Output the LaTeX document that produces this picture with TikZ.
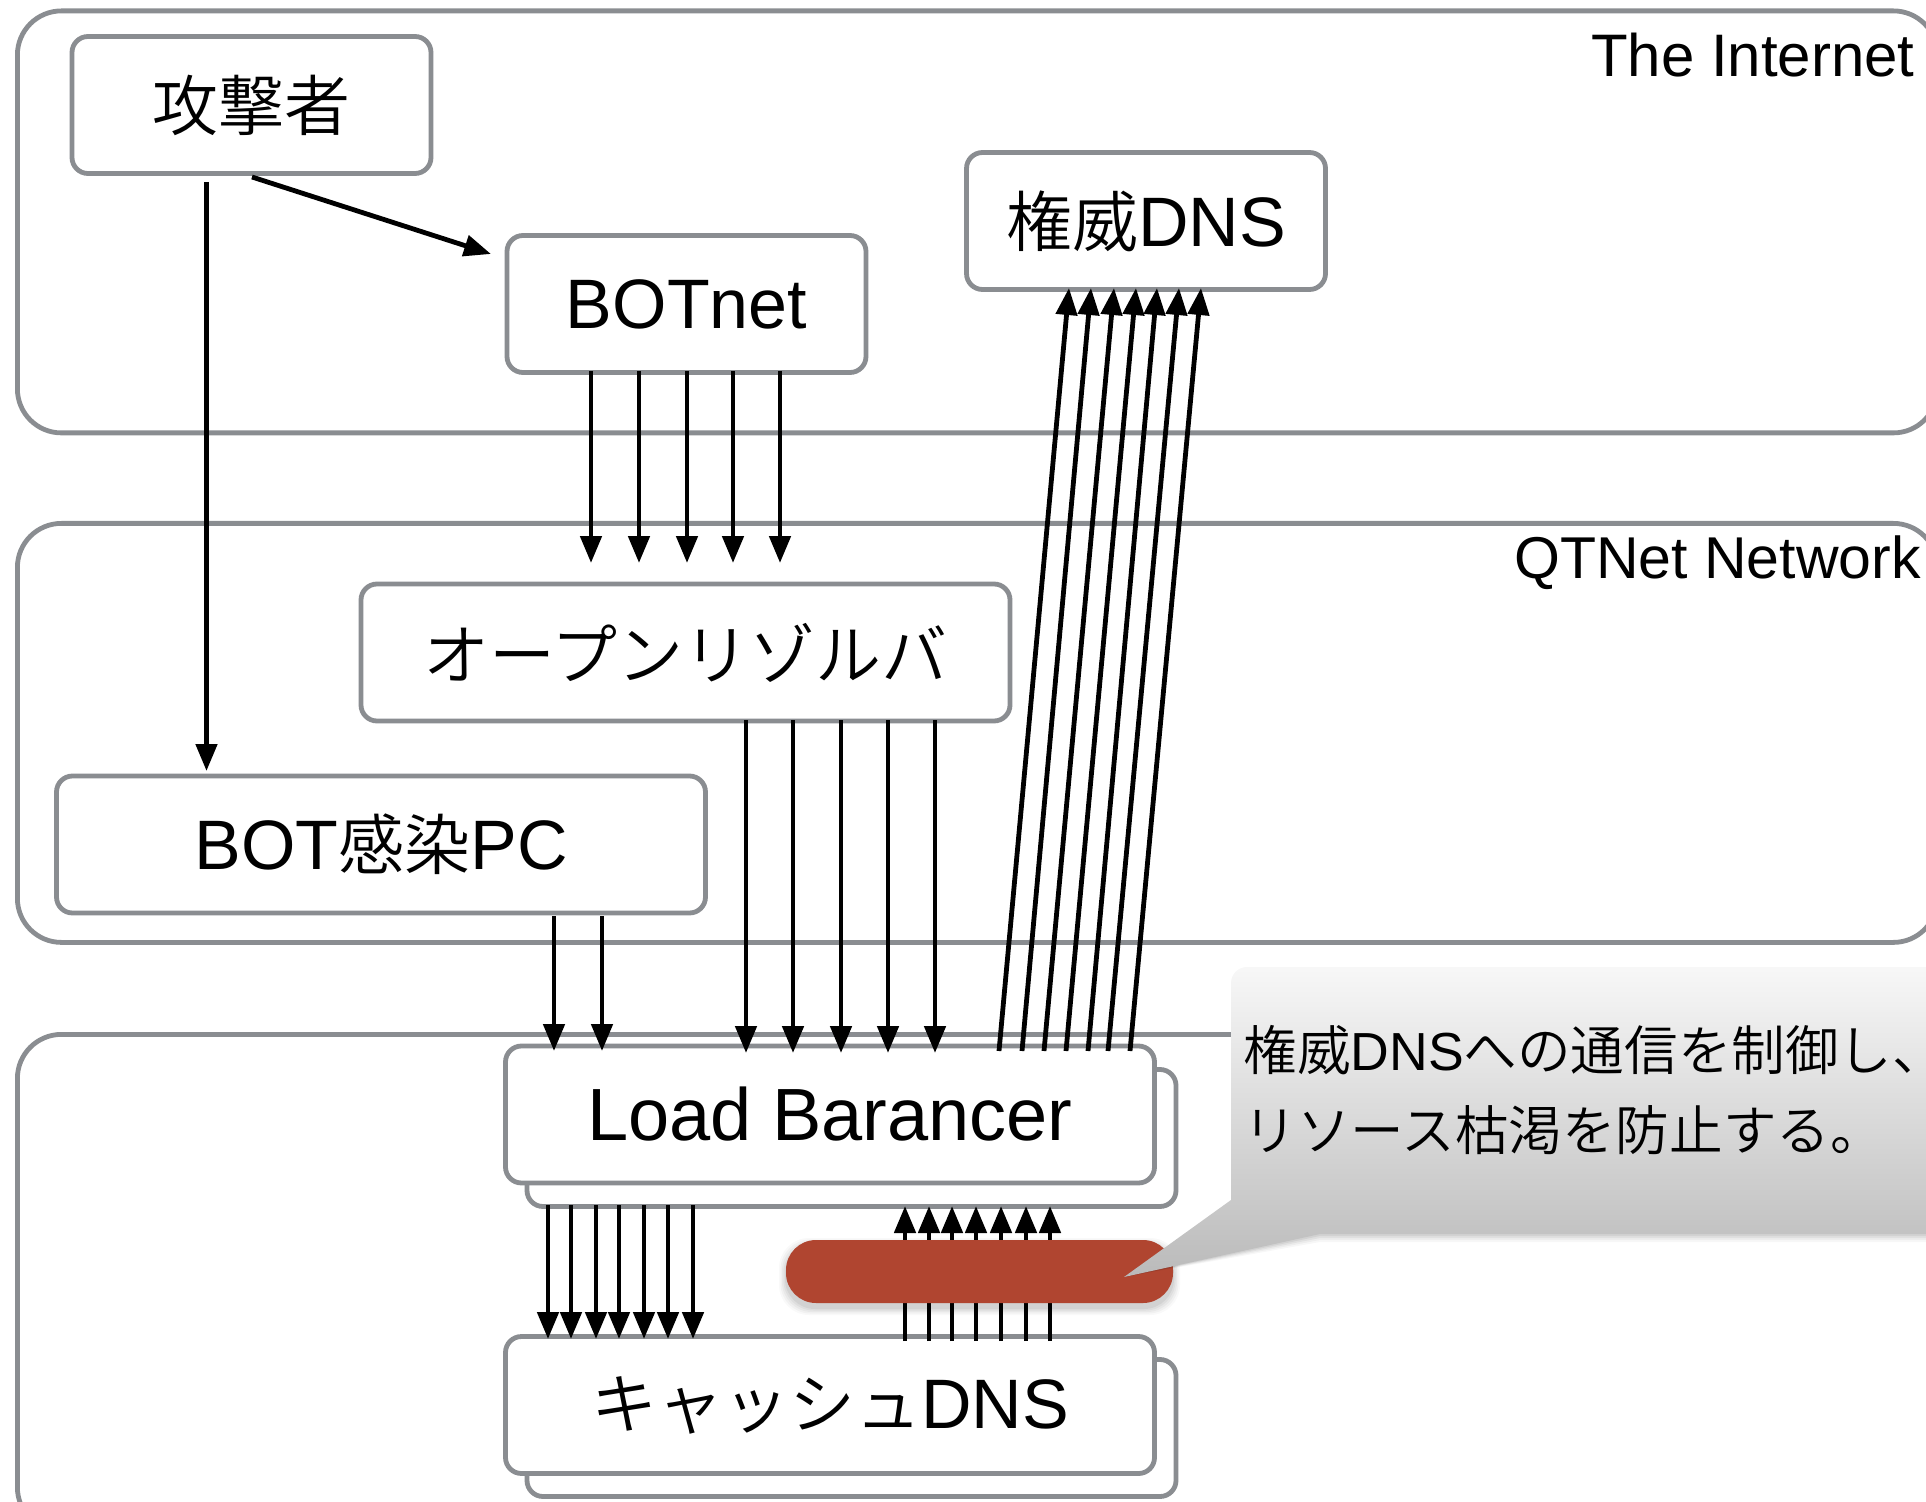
\documentclass[tikz,border=0pt]{standalone}
\usepackage{fontspec}
\usetikzlibrary{arrows.meta}
\setmainfont{Liberation Sans}
\newfontfamily\jp{Noto Sans CJK JP DemiLight}
\definecolor{edgegray}{HTML}{8A8D91}
\definecolor{pillred}{HTML}{B04530}
\newcommand{\jpb}[1]{{\fontsize{33}{33}\selectfont\jp #1}}
\tikzset{
  x=0.5pt,y=-0.5pt,
  zone/.style={draw=edgegray,line width=2.4pt,rounded corners=22pt,fill=white,minimum width=960pt,inner sep=0pt},
  boxn/.style={draw=edgegray,line width=2.4pt,rounded corners=8pt,fill=white,minimum width=179.5pt,minimum height=68.5pt,inner sep=0pt,font=\fontsize{35}{35}\selectfont},
  wide/.style={boxn,minimum width=324.5pt},
  lab/.style={inner sep=0pt,font=\fontsize{30}{30}\selectfont},
  notetext/.style={inner sep=0pt,anchor=west,font=\fontsize{26.8}{26.8}\selectfont},
  arr/.style={line width=2.4pt,-{Triangle[length=13.5pt,width=10.5pt]}},
}
\begin{document}
\begin{tikzpicture}
\useasboundingbox (0,0) rectangle (1926,1502);
\clip (0,0) rectangle (1926,1502);
% zones
\node[zone,minimum height=211pt,anchor=north west] (internet) at (15,8.5) {};
\node[zone,minimum height=209.5pt,anchor=north west] (qtnet) at (15,521) {};
\node[zone,minimum height=248.5pt,anchor=north west] (inner) at (15,1032) {};
\node[lab,anchor=east] (inetlab) at (1915,55) {The Internet};
\node[lab,anchor=east,font=\fontsize{29.5}{29.5}\selectfont] (qtlab) at (1921,563) {QTNet Network};
% boxes
\node[boxn] (attacker) at (251.5,105) {\jpb{攻撃者}};
\node[boxn] (botnet) at (686.5,304) {BOTnet};
\node[boxn] (auth) at (1146,221) {\jpb{権威}DNS};
\node[wide] (open) at (685.5,652.5) {\jpb{オープンリゾルバ}};
\node[wide] (pc) at (381,844.5) {BOT\jpb{感染}PC};
\node[wide] (lbback) at (851.5,1138) {};
\node[wide,font=\fontsize{37}{37}\selectfont] (lb) at (830,1114.5) {Load Barancer};
\node[wide] (cacheback) at (851.5,1428) {};
\node[wide] (cache) at (830,1405) {\jpb{キャッシュ}DNS};
% arrows
\coordinate (a1) at (206.5,182); \coordinate (a2) at (206.5,771);
\draw[arr] (a1) -- (a2);
\coordinate (b1) at (252,177); \coordinate (b2) at (491,254);
\draw[arr] (b1) -- (b2);
\foreach \i/\x in {1/591,2/639,3/687,4/733,5/780}{
  \coordinate (bs\i) at (\x,371); \coordinate (bt\i) at (\x,563);
  \draw[arr] (bs\i) -- (bt\i);}
\foreach \i/\x in {1/746,2/793,3/841,4/888,5/935}{
  \coordinate (os\i) at (\x,720); \coordinate (ot\i) at (\x,1053);
  \draw[arr] (os\i) -- (ot\i);}
\foreach \i/\x in {1/554,2/602}{
  \coordinate (ps\i) at (\x,916); \coordinate (pt\i) at (\x,1051);
  \draw[arr] (ps\i) -- (pt\i);}
\foreach \i/\x/\t in {1/999/1069,2/1022/1091,3/1044/1114,4/1066/1136,5/1088/1157,6/1108/1179,7/1130/1201}{
  \coordinate (ls\i) at (\x,1051); \coordinate (lt\i) at (\t,288);
  \draw[arr] (ls\i) -- (lt\i);}
\foreach \i/\x in {1/548,2/571,3/596,4/619,5/644,6/668,7/693}{
  \coordinate (ds\i) at (\x,1205); \coordinate (dt\i) at (\x,1339);
  \draw[arr] (ds\i) -- (dt\i);}
\foreach \i/\x in {1/905,2/929,3/952,4/976,5/1001,6/1026,7/1050}{
  \coordinate (us\i) at (\x,1341); \coordinate (ut\i) at (\x,1206);
  \draw[arr] (us\i) -- (ut\i);}
% red pill with soft shadow
\foreach \o/\g in {14/.025,11/.03,8/.035,5/.04,2/.05}{
  \fill[black,opacity=\g,rounded corners=15pt] (786-\o/2,1240+5-\o/2) rectangle (1173+\o/2,1303+5+\o/2);}
\node[fill=pillred,rounded corners=15pt,minimum width=193.5pt,minimum height=31.5pt,inner sep=0pt] (pill) at (979.5,1271.5) {};
% callout with shadow
\foreach \o/\g in {8/.03,6/.04,4/.05,2/.06}{
  \fill[black,opacity=\g] (1124,1277) -- (1320,1234+\o) -- (1940,1234+\o) -- (1940,1230) -- (1320,1230) -- cycle;}
\shade[top color=white!97!black,bottom color=white!73!black]
  (1124,1277) -- (1231,1200) [rounded corners=8pt] -- (1231,967) -- (1940,967) [sharp corners] -- (1940,1234) -- (1320,1234) -- cycle;
\node[notetext] (note1) at (1243,1050) {\jp 権威{\rmfamily DNS}への通信を制御し、};
\node[notetext] (note2) at (1243,1130) {\jp リソース枯渇を防止する。};
\end{tikzpicture}
\end{document}
